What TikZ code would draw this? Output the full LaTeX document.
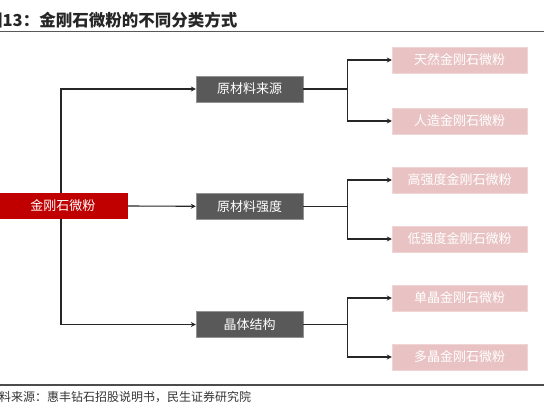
\documentclass[tikz,border=0pt]{standalone}
\usepackage{fontspec}
\setmainfont{Noto Sans CJK SC}
\usetikzlibrary{arrows.meta}
\definecolor{boxred}{HTML}{C00000}
\definecolor{boxgray}{HTML}{595959}
\definecolor{boxpink}{HTML}{E9C3C3}

\begin{document}
\begin{tikzpicture}[x=1pt, y=-1pt,
    every node/.style={font=\fontsize{13}{15}\selectfont, text=white, inner sep=0pt, minimum height=26pt},
    rootbox/.style={fill=boxred, minimum width=130pt},
    midbox/.style={fill=boxgray, draw=gray!85, minimum width=107pt},
    leafbox/.style={fill=boxpink, draw=boxpink!70!white, minimum width=135pt},
    link/.style={line width=1.1pt, draw=black!85},
    arr/.style={link, -{Stealth[length=5pt, width=5pt]}}]
            \useasboundingbox (0,0) rectangle (544,405);
            % title and rules
            \node[anchor=west, text=black!85, minimum height=0pt, font=\fontsize{16.5}{18}\selectfont\bfseries] (title) at (-14,20) {图13：金刚石微粉的不同分类方式};
            \draw[line width=1.8pt, black!65] (0,31.5) -- (544,31.5);
            \draw[line width=1.5pt, black!70] (0,385) -- (544,385);
            \node[anchor=west, text=black!80, minimum height=0pt, font=\fontsize{12}{14}\selectfont] (source) at (-13,397) {资料来源：惠丰钻石招股说明书，民生证券研究院};
            % boxes
            \node[rootbox] (root) at (63,206) {金刚石微粉};
            \node[midbox] (origin) at (249.5,89) {原材料来源};
            \node[midbox] (strength) at (249.5,206.5) {原材料强度};
            \node[midbox] (crystal) at (249.5,324.5) {晶体结构};
            \node[leafbox] (natural) at (459.5,60) {天然金刚石微粉};
            \node[leafbox] (synthetic) at (459.5,121) {人造金刚石微粉};
            \node[leafbox] (high) at (459.5,180) {高强度金刚石微粉};
            \node[leafbox] (low) at (459.5,239) {低强度金刚石微粉};
            \node[leafbox] (single) at (459.5,298) {单晶金刚石微粉};
            \node[leafbox] (poly) at (459.5,357) {多晶金刚石微粉};
            % connectors
            \draw[arr] (root.east) -- (strength);
            \draw[arr] ([xshift=-2pt]root.north) |- (origin);
            \draw[arr] ([xshift=-2pt]root.south) |- (crystal);
            \foreach \m/\a/\b in {origin/natural/synthetic, strength/high/low, crystal/single/poly} {
                \draw[link] (\m.east) -- ++(44,0) coordinate (j\m);
                \draw[arr] (j\m) |- (\a);
                \draw[arr] (j\m) |- (\b);
            }
\end{tikzpicture}
\end{document}
